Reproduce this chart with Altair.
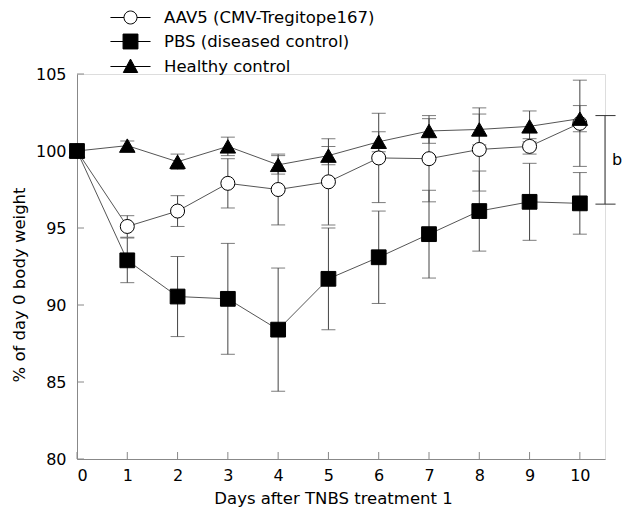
import altair as alt
import pandas as pd

days = [0, 1, 2, 3, 4, 5, 6, 7, 8, 9, 10]
y_ticks = [80, 85, 90, 95, 100, 105]
series_names = ["AAV5 (CMV-Tregitope167)", "PBS (diseased control)", "Healthy control"]
x_title = "Days after TNBS treatment 1"
y_title = "% of day 0 body weight"

aav5_mean = [100.0, 95.1, 96.1, 97.9, 97.5, 98.0, 99.55, 99.5, 100.1, 100.3, 101.8]
aav5_err = [0.0, 0.7, 1.0, 1.6, 2.3, 2.8, 2.9, 2.8, 2.7, 0.5, 2.8]

pbs_mean = [100.0, 92.9, 90.55, 90.4, 88.4, 91.7, 93.1, 94.6, 96.1, 96.7, 96.6]
pbs_err = [0.0, 1.45, 2.6, 3.6, 4.0, 3.3, 3.0, 2.85, 2.6, 2.5, 2.0]

healthy_mean = [100.0, 100.35, 99.3, 100.3, 99.1, 99.7, 100.6, 101.3, 101.4, 101.6, 102.1]
healthy_err = [0.0, 0.3, 0.5, 0.6, 0.6, 0.6, 0.65, 0.8, 1.0, 1.0, 0.85]

bracket_x = [10.5]
bracket_top = [102.3]
bracket_bottom = [96.55]
bracket_cap_left = [10.31]
bracket_cap_right = [10.71]
bracket_label = ["b"]
bracket_label_x = [10.74]
bracket_label_y = [99.4]

rows = []
for name, means, errs in zip(series_names,
                             [aav5_mean, pbs_mean, healthy_mean],
                             [aav5_err, pbs_err, healthy_err]):
    for d, m, e in zip(days, means, errs):
        rows.append({"series": name, "day": d, "mean": m, "lo": m - e, "hi": m + e})
df = pd.DataFrame(rows)

FONT = "DejaVu Sans"
AXIS_GRAY = "#888888"

x_scale = alt.Scale(domain=[0, 10.5], nice=False, zero=False)
y_scale = alt.Scale(domain=[80, 105], nice=False, zero=False)

x_axis = alt.Axis(values=days, title=x_title, grid=False,
                  domainColor=AXIS_GRAY, ticks=False,
                  labelFontSize=16, labelPadding=8, labelColor="black",
                  titleFontSize=16.5, titleFontWeight="normal", titleColor="black",
                  titleY=39, titleBaseline="middle", titleX=256)
y_axis = alt.Axis(values=y_ticks, title=None, grid=False,
                  domainColor=AXIS_GRAY, ticks=False,
                  labelFontSize=16, labelPadding=11, labelColor="black")

base = alt.Chart(df)

lines = base.mark_line(color="#555555", strokeWidth=1).encode(
    x=alt.X("day:Q", scale=x_scale, axis=x_axis),
    y=alt.Y("mean:Q", scale=y_scale, axis=y_axis),
    detail="series:N",
)

# inward axis ticks
xt = alt.Chart(pd.DataFrame({"v": days})).mark_rule(color=AXIS_GRAY, strokeWidth=1).encode(
    x="v:Q", y=alt.value(385), y2=alt.value(378))
yt = alt.Chart(pd.DataFrame({"v": y_ticks})).mark_rule(color=AXIS_GRAY, strokeWidth=1).encode(
    y="v:Q", x=alt.value(0), x2=alt.value(7))

# y axis title
ytitle = alt.Chart(pd.DataFrame({"t": [y_title]})).mark_text(
    font=FONT, fontSize=16.5, angle=270, align="center", baseline="middle", color="black"
).encode(text="t:N", x=alt.value(-57), y=alt.value(211))

err_rules = base.mark_rule(color="#444444", strokeWidth=1).encode(
    x="day:Q", y="lo:Q", y2="hi:Q"
)
cap_lo = base.mark_tick(orient="horizontal", size=14, thickness=1, color="#444444").encode(
    x="day:Q", y="lo:Q"
)
cap_hi = base.mark_tick(orient="horizontal", size=14, thickness=1, color="#444444").encode(
    x="day:Q", y="hi:Q"
)

points = base.mark_point(filled=True, stroke="black", strokeWidth=1, opacity=1).encode(
    x="day:Q",
    y="mean:Q",
    shape=alt.Shape("series:N", scale=alt.Scale(domain=series_names,
                                                range=["circle", "square", "triangle-up"]),
                    legend=None),
    fill=alt.Fill("series:N", scale=alt.Scale(domain=series_names,
                                              range=["white", "black", "black"]), legend=None),
    size=alt.Size("series:N", scale=alt.Scale(domain=series_names, range=[196, 240, 200]),
                  legend=None),
)

# legend symbols: line through marker (symbol unit = 12 px)
circle_path = "M-1.67,0H-0.54M0.54,0H1.67M-0.54,0A0.54,0.54 0 1,1 0.54,0A0.54,0.54 0 1,1 -0.54,0Z"
square_path = "M-1.67,0H-0.62M0.62,0H1.67M-0.62,-0.62H0.62V0.62H-0.62Z"
tri_path = "M-1.67,0H1.67M0,-0.62L0.6,0.5H-0.6Z"

legend = alt.Legend(
    title=None, orient="none", legendX=41, legendY=-69, padding=0,
    symbolSize=576, rowPadding=3, labelOffset=21, labelFontSize=16.5, labelFont=FONT,
    labelColor="black", labelLimit=400, direction="vertical", symbolStrokeColor="black",
    symbolStrokeWidth=1, symbolOpacity=1,
)

legend_layer = base.transform_filter("false").mark_point(
    filled=True, strokeWidth=1, opacity=1, size=576
).encode(
    x="day:Q",
    y="mean:Q",
    shape=alt.Shape("series:N", scale=alt.Scale(domain=series_names,
                                                range=[circle_path, square_path, tri_path]),
                    legend=legend, sort=series_names),
    fill=alt.Fill("series:N", scale=alt.Scale(domain=series_names,
                                              range=["white", "black", "black"]),
                  legend=legend, sort=series_names),
    stroke=alt.Stroke("series:N", scale=alt.Scale(domain=series_names,
                                                  range=["black", "black", "black"]),
                      legend=legend, sort=series_names),
)

bracket_df = pd.DataFrame({
    "x": bracket_x, "top": bracket_top, "bottom": bracket_bottom,
    "cl": bracket_cap_left, "cr": bracket_cap_right,
    "label": bracket_label, "lx": bracket_label_x, "ly": bracket_label_y,
})
bb = alt.Chart(bracket_df)
br_v = bb.mark_rule(color="#333333", strokeWidth=1).encode(x="x:Q", y="top:Q", y2="bottom:Q")
br_t = bb.mark_rule(color="#333333", strokeWidth=1).encode(x="cl:Q", x2="cr:Q", y="top:Q")
br_b = bb.mark_rule(color="#333333", strokeWidth=1).encode(x="cl:Q", x2="cr:Q", y="bottom:Q")
br_txt = bb.mark_text(font=FONT, fontSize=16, align="center", baseline="middle", color="black").encode(
    x="lx:Q", y="ly:Q", text="label:N")

chart = alt.layer(lines, xt, yt, ytitle, err_rules, cap_lo, cap_hi, points, legend_layer,
                  br_v, br_t, br_b, br_txt).resolve_scale(
    shape="independent", fill="independent", size="independent", stroke="independent"
).properties(
    width=528, height=385,
    autosize=alt.AutoSizeParams(type="none"),
    padding={"left": 69, "top": 66, "right": 17, "bottom": 48},
).configure_view(stroke=None).configure(font=FONT)

chart.save("out.html", embed_options={"renderer": "svg", "actions": False})
